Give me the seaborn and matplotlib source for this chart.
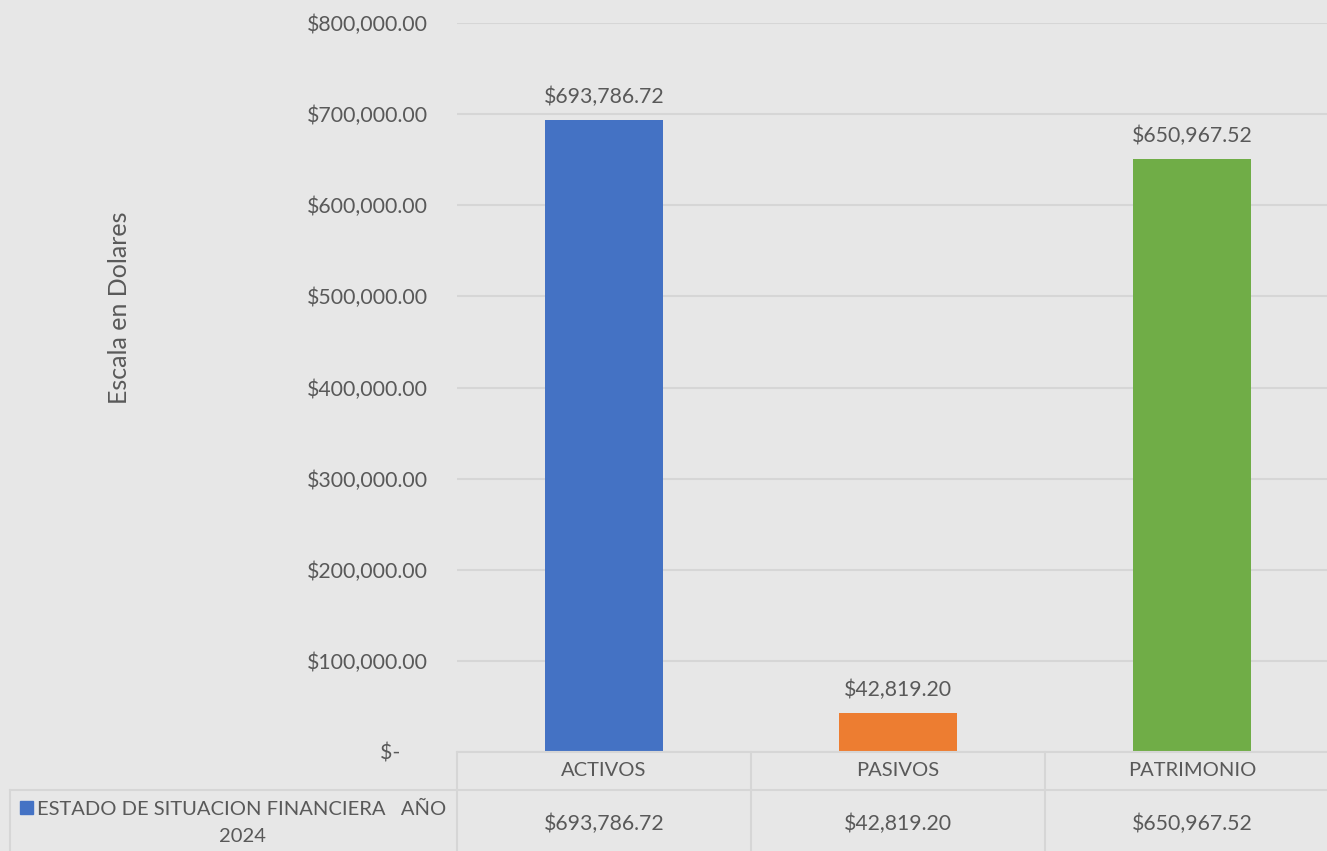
import matplotlib
matplotlib.use("Agg")
import matplotlib.pyplot as plt
import matplotlib.transforms as mtransforms
import seaborn as sns
import pandas as pd

# datos del grafico
categorias = ["ACTIVOS", "PASIVOS", "PATRIMONIO"]
valores = [693786.72, 42819.20, 650967.52]
colores = ["#4472C4", "#ED7D31", "#70AD47"]
serie = "ESTADO DE SITUACION FINANCIERA   AÑO\n2024"
ticks_y = [0, 100000, 200000, 300000, 400000, 500000, 600000, 700000, 800000]

fondo = "#E7E7E7"
gris_txt = "#595959"
gris_linea = "#D6D6D6"

sns.set_theme(style="white")
plt.rcParams["font.family"] = ["Lato", "DejaVu Sans"]

tabla = pd.DataFrame({"cat": categorias, "valor": valores})

fig = plt.figure(figsize=(13.27, 8.51), dpi=100, facecolor=fondo)
ax = fig.add_axes([457 / 1327, 1 - 752 / 851, 1 - 457 / 1327, (752 - 23) / 851])
ax.set_facecolor(fondo)

sns.barplot(data=tabla, x="cat", y="valor", hue="cat", palette=colores,
            width=0.40, legend=False, ax=ax, saturation=1, linewidth=0)

col = 294.0  # ancho de columna en px; el area de datos sigue fuera de la imagen
ax.set_ylim(0, 800000)
ax.set_xlim(-0.5, -0.5 + (1327 - 457) / col)
ax.set_yticks(ticks_y)
ax.set_yticklabels(["$-     "] + [f"${v:,.2f}" for v in ticks_y[1:]],
                   fontsize=15.3, color=gris_txt)
ax.tick_params(axis="y", length=0, pad=21)
ax.set_xticks([])
ax.set_xlabel("")
ax.set_ylabel("Escala en Dolares", fontsize=18, color=gris_txt)
ax.yaxis.set_label_coords(-0.375, 0.609, transform=ax.transAxes)
ax.yaxis.grid(True, color=gris_linea, lw=1.5)
ax.set_axisbelow(True)
for s in ax.spines.values():
    s.set_visible(False)

for cont in ax.containers:
    ax.bar_label(cont, labels=[f"${v:,.2f}" for v in cont.datavalues],
                 padding=9, fontsize=15.3, color=gris_txt)

# tabla de datos bajo el eje
blend = mtransforms.blended_transform_factory(ax.transData, ax.transAxes)
alto = 729.0
y_fin = -(851 - 752) / alto
for i, (c, v) in enumerate(zip(categorias, valores)):
    ax.text(i, -(771 - 752) / alto, c, transform=blend, ha="center", va="center",
            fontsize=14.5, color=gris_txt, clip_on=False)
    ax.text(i, -(824 - 752) / alto, f"${v:,.2f}", transform=blend, ha="center",
            va="center", fontsize=15.3, color=gris_txt, clip_on=False)
for xb in [-0.5, 0.5, 1.5]:
    ax.plot([xb, xb], [0, y_fin], transform=blend, color=gris_linea, lw=1.5,
            clip_on=False)
ax.plot([-0.5, 3], [0, 0], transform=blend, color=gris_linea, lw=1.5, clip_on=False)

# celda de la leyenda (coordenadas de figura)
fig.add_artist(plt.Line2D([10 / 1327, 1], [1 - 790 / 851] * 2, color=gris_linea, lw=1.5))
fig.add_artist(plt.Line2D([10 / 1327] * 2, [1 - 790 / 851, 0], color=gris_linea, lw=1.5))
fig.add_artist(plt.Rectangle((20 / 1327, 1 - 814 / 851), 13 / 1327, 13 / 851,
                             color=colores[0], transform=fig.transFigure))
fig.text(242 / 1327, 1 - 823 / 851, serie, ha="center", va="center",
         fontsize=14.5, color=gris_txt, linespacing=1.75)

fig.savefig("out.png", dpi=100, facecolor=fondo)
